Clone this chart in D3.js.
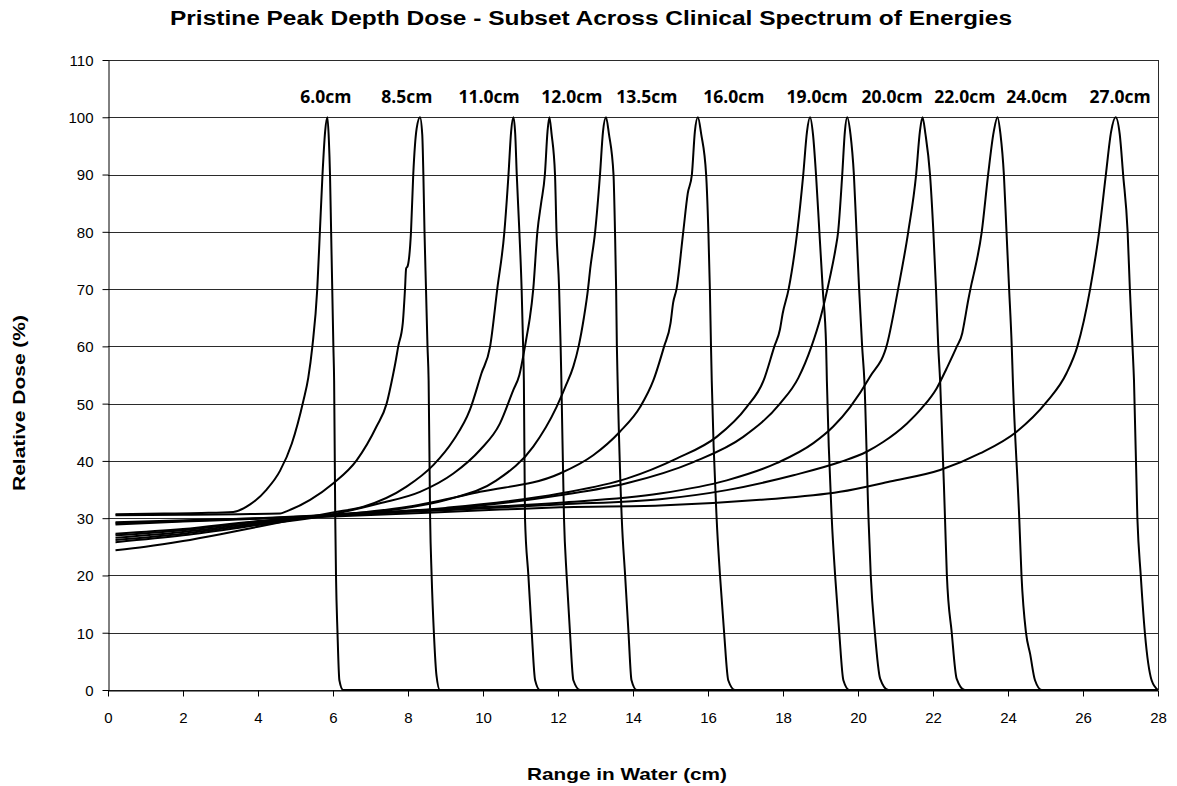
<!DOCTYPE html>
<html>
<head>
<meta charset="utf-8">
<script src="https://cdnjs.cloudflare.com/ajax/libs/d3/7.8.5/d3.min.js"></script>
<style>
  body { margin: 0; background: #fff; }
  svg { display: block; }
</style>
</head>
<body>
<script>
// Peak names (label text) and where each label sits along the x axis (cm)
var peakNames = ["6.0cm", "8.5cm", "11.0cm", "12.0cm", "13.5cm", "16.0cm",
                 "19.0cm", "20.0cm", "22.0cm", "24.0cm", "27.0cm"];
var labelX = [5.81, 7.97, 10.16, 12.37, 14.37, 16.69, 18.91, 20.91, 22.85, 24.77, 26.99];

var xTicks = [0, 2, 4, 6, 8, 10, 12, 14, 16, 18, 20, 22, 24, 26, 28];
var yTicks = [0, 10, 20, 30, 40, 50, 60, 70, 80, 90, 100, 110];

// Depth dose curves, [depth cm, relative dose %]
var dd60 = [[0.2,30.7],[1.5,30.8],[2.5,30.9],[3.34,31.1],[3.79,32.4],[4.23,35.0],[4.59,38.3],[4.9,43],
  [5.21,50.5],[5.34,54.5],[5.45,60],[5.58,70],[5.65,80],[5.72,90],[5.79,97.5],[5.85,100],[5.89,96],
  [5.92,90],[5.95,80],[5.98,70],[6.01,60],[6.03,54],[6.06,30],[6.08,20],[6.12,10],[6.17,1.7],[6.27,0],[28,0]];
var dd85 = [[0.2,30.5],[2.0,30.6],[3.5,30.7],[4.59,30.8],[4.76,31.2],[5.39,33.2],[6.01,36.1],[6.63,40.1],
  [7.16,46],[7.43,50],[7.6,55],[7.66,57],[7.74,60],[7.86,64],[7.92,70],[7.95,73.6],[7.99,74],[8.08,80],
  [8.14,90],[8.23,98],[8.32,100],[8.38,97],[8.41,90],[8.44,80],[8.48,70],[8.52,60],[8.55,54],[8.59,30],
  [8.63,20],[8.69,10],[8.76,2.5],[8.85,0],[28,0]];
var dd110 = [[0.2,24.4],[1.0,25.0],[2.0,26.0],[3.0,27.2],[4.0,28.5],[5.0,29.8],[6.0,31.0],[6.81,32],
  [7.96,35.5],[8.68,39.3],[9.21,43.6],[9.65,48.9],[9.96,55.3],[10.19,60],[10.38,70],[10.57,80],
  [10.68,90],[10.75,97.5],[10.81,100],[10.86,97],[10.9,90],[10.97,80],[11.03,70],[11.07,60],[11.09,54],
  [11.12,30],[11.21,20],[11.3,10],[11.39,1.7],[11.52,0],[28,0]];
var dd120 = [[0.2,25.8],[2.0,27.0],[4.0,28.8],[6.0,30.7],[7.25,32.6],[8.32,34.6],[9.21,37.8],[9.92,41.9],
  [10.45,46.5],[10.81,52.4],[10.97,55],[11.12,60],[11.2,63],[11.25,65],[11.34,70],[11.45,80],[11.55,85],
  [11.65,90],[11.72,97.5],[11.77,100],[11.83,97],[11.92,90],[11.96,80],[12.03,70],[12.07,60],[12.09,54],
  [12.16,30],[12.23,20],[12.32,10],[12.41,1.7],[12.59,0],[28,0]];
var dd135 = [[0.2,26.2],[2.0,27.3],[4.0,29.0],[6.0,30.6],[7.52,31.4],[9.03,33.2],[10.36,36.6],[11.34,42.5],
  [11.96,49.4],[12.2,53],[12.41,56.5],[12.55,60],[12.69,65],[12.8,70],[12.86,73.6],[12.99,80],[13.12,90],
  [13.2,97.5],[13.28,100],[13.36,97],[13.48,90],[13.52,80],[13.55,70],[13.57,60],[13.59,54],[13.7,30],
  [13.79,20],[13.88,10],[13.96,1.7],[14.1,0],[28,0]];
var dd160 = [[0.2,26.6],[2.0,27.6],[4.0,29.2],[6.0,30.5],[8.0,32.0],[9.92,34.6],[12.05,37.8],[12.94,41],
  [13.65,45.1],[14.19,49.4],[14.54,54],[14.83,60],[15.0,64],[15.07,67.6],[15.16,70],[15.34,80],[15.46,86.7],
  [15.57,90],[15.65,97.5],[15.73,100],[15.82,97],[15.95,90],[16.01,80],[16.05,70],[16.08,60],[16.1,54],
  [16.23,30],[16.32,20],[16.43,10],[16.54,1.7],[16.72,0],[28,0]];
var dd190 = [[0.2,27.0],[2.0,27.9],[4.0,29.4],[6.0,30.5],[9.0,31.8],[12.05,34.3],[13.83,36.9],[15.16,40.4],
  [16.23,44.2],[17.03,49.4],[17.48,54],[17.77,60],[17.92,63],[17.99,65.7],[18.15,70],[18.38,80],[18.54,90],
  [18.64,97.5],[18.72,100],[18.8,97],[18.88,90],[18.97,80],[19.06,70],[19.15,60],[19.17,54],[19.3,30],
  [19.39,20],[19.5,10],[19.61,1.7],[19.77,0],[28,0]];
var dd200 = [[0.2,27.3],[2.0,28.1],[4.0,29.5],[6.0,30.4],[9.0,31.6],[12.05,34.0],[13.83,36.1],[15.61,39.8],
  [16.94,44.2],[17.92,50],[18.41,54.5],[18.76,60],[19.0,65],[19.25,72],[19.4,77],[19.47,80],[19.58,90],
  [19.65,97.5],[19.71,100],[19.8,97],[19.89,90],[19.96,80],[20.03,70],[20.11,60],[20.17,54],[20.28,30],
  [20.34,20],[20.45,10],[20.59,2],[20.81,0],[28,0]];
var dd220 = [[0.2,29.1],[2.0,29.5],[4.0,30.0],[6.0,30.6],[9.0,31.6],[12.05,32.7],[14.72,34.3],[16.5,36.6],
  [17.83,39.6],[18.81,43.1],[19.34,46],[19.79,49.4],[20.32,54.7],[20.78,60.5],[21.07,70],[21.34,80],
  [21.55,90],[21.65,97.5],[21.72,100],[21.8,97],[21.92,90],[22.01,80],[22.08,70],[22.14,60],[22.19,54],
  [22.32,30],[22.37,20],[22.5,10],[22.63,2],[22.85,0],[28,0]];
var dd240 = [[0.2,28.9],[2.0,29.4],[4.0,29.9],[6.0,30.6],[9.0,31.4],[12.05,32.4],[14.72,33.3],[16.5,34.9],
  [18.28,37.5],[19.52,39.8],[20.23,41.6],[20.67,43.3],[21.3,46.5],[21.7,49.2],[22.1,52.7],[22.36,56.1],
  [22.63,59.9],[22.78,62.3],[22.83,64],[22.94,68.1],[23.03,71],[23.09,72.7],[23.3,80],[23.47,90],
  [23.62,97.5],[23.72,100],[23.8,97],[23.89,90],[23.96,80],[24.03,70],[24.1,60],[24.13,54],[24.3,30],
  [24.36,20],[24.48,10],[24.59,6.3],[24.72,1.7],[24.9,0],[28,0]];
var dd270 = [[0.2,29.3],[3.0,29.8],[6.0,30.3],[10.45,31.5],[12.05,31.9],[14.72,32.2],[17.39,33.2],[19.52,34.6],
  [20.85,36.4],[22.19,38.4],[23.25,41.3],[24.23,45.1],[25.03,50.3],[25.56,55.3],[25.85,60],[26.19,70],
  [26.43,80],[26.61,90],[26.75,97.5],[26.87,100],[26.98,97],[27.07,90],[27.19,80],[27.25,70],[27.32,60],
  [27.36,54],[27.45,30],[27.54,20],[27.65,10],[27.83,1.7],[28.0,0]];

var curves = [dd60, dd85, dd110, dd120, dd135, dd160, dd190, dd200, dd220, dd240, dd270];

// Canvas and plot area
var WIDTH = 1177, HEIGHT = 786;
var MARGINS = { top: 60, right: 19, bottom: 96, left: 108 };

var xScale = d3.scaleLinear().domain([0, 28]).range([MARGINS.left, WIDTH - MARGINS.right]);
var yScale = d3.scaleLinear().domain([0, 110]).range([HEIGHT - MARGINS.bottom, MARGINS.top]);

var svg = d3.select("body").append("svg")
    .attr("width", WIDTH)
    .attr("height", HEIGHT)
    .style("font-family", "'Liberation Sans', Arial, sans-serif");

// Horizontal grid lines
svg.append("g")
    .selectAll("line")
    .data(yTicks)
    .enter().append("line")
    .attr("x1", xScale(0))
    .attr("x2", xScale(28))
    .attr("y1", function(d) { return Math.round(yScale(d)) + 0.5; })
    .attr("y2", function(d) { return Math.round(yScale(d)) + 0.5; })
    .attr("stroke", "#2b2b2b")
    .attr("stroke-width", 1);

// Right border of the plot
svg.append("line")
    .attr("x1", Math.round(xScale(28)) + 0.5)
    .attr("x2", Math.round(xScale(28)) + 0.5)
    .attr("y1", yScale(110))
    .attr("y2", yScale(0))
    .attr("stroke", "#2b2b2b");

// Axes
var xAxis = d3.axisBottom(xScale).tickValues(xTicks).tickSize(6).tickSizeOuter(0);
var yAxis = d3.axisLeft(yScale).tickValues(yTicks).tickSize(6).tickSizeOuter(0);

var gx = svg.append("g")
    .attr("class", "x_axis")
    .attr("transform", "translate(0," + (Math.round(yScale(0)) + 0.5) + ")")
    .call(xAxis);
var gy = svg.append("g")
    .attr("class", "y_axis")
    .attr("transform", "translate(" + (Math.round(xScale(0)) + 0.5) + ",0)")
    .call(yAxis);

[gx, gy].forEach(function(g) {
    g.selectAll("path, line").attr("stroke", "#000");
    g.selectAll("text")
        .attr("fill", "#000")
        .style("font-family", "'Liberation Sans', Arial, sans-serif")
        .style("font-size", "15px");
});
gx.selectAll("text").attr("dy", "0").attr("y", 32);
gy.selectAll("text").attr("x", -15).attr("dy", "0.36em");

// Depth dose curves
var lineGen = d3.line()
    .x(function(d) { return xScale(d[0]); })
    .y(function(d) { return yScale(d[1]); })
    .curve(d3.curveMonotoneX);

svg.append("g")
    .selectAll("path")
    .data(curves)
    .enter().append("path")
    .attr("d", lineGen)
    .attr("fill", "none")
    .attr("stroke", "#000")
    .attr("stroke-width", 2)
    .attr("stroke-linejoin", "round");

// Peak labels
svg.append("g")
    .selectAll("text")
    .data(peakNames)
    .enter().append("text")
    .attr("x", function(d, i) { return xScale(labelX[i]); })
    .attr("y", yScale(102.5))
    .attr("text-anchor", "middle")
    .style("font-family", "'Open Sans', sans-serif")
    .style("font-weight", "bold")
    .style("font-size", "17.5px")
    .text(function(d) { return d; });

// Title and axis titles (stretched wide like the original)
svg.append("text")
    .attr("x", 591)
    .attr("y", 25)
    .attr("text-anchor", "middle")
    .attr("textLength", 842)
    .attr("lengthAdjust", "spacingAndGlyphs")
    .style("font-weight", "bold")
    .style("font-size", "20px")
    .text("Pristine Peak Depth Dose - Subset Across Clinical Spectrum of Energies");

svg.append("text")
    .attr("x", 627)
    .attr("y", 780)
    .attr("text-anchor", "middle")
    .attr("textLength", 200)
    .attr("lengthAdjust", "spacingAndGlyphs")
    .style("font-weight", "bold")
    .style("font-size", "17px")
    .text("Range in Water (cm)");

svg.append("text")
    .attr("transform", "translate(25,403) rotate(-90)")
    .attr("text-anchor", "middle")
    .attr("textLength", 176)
    .attr("lengthAdjust", "spacingAndGlyphs")
    .style("font-weight", "bold")
    .style("font-size", "17px")
    .text("Relative Dose (%)");
</script>
</body>
</html>
